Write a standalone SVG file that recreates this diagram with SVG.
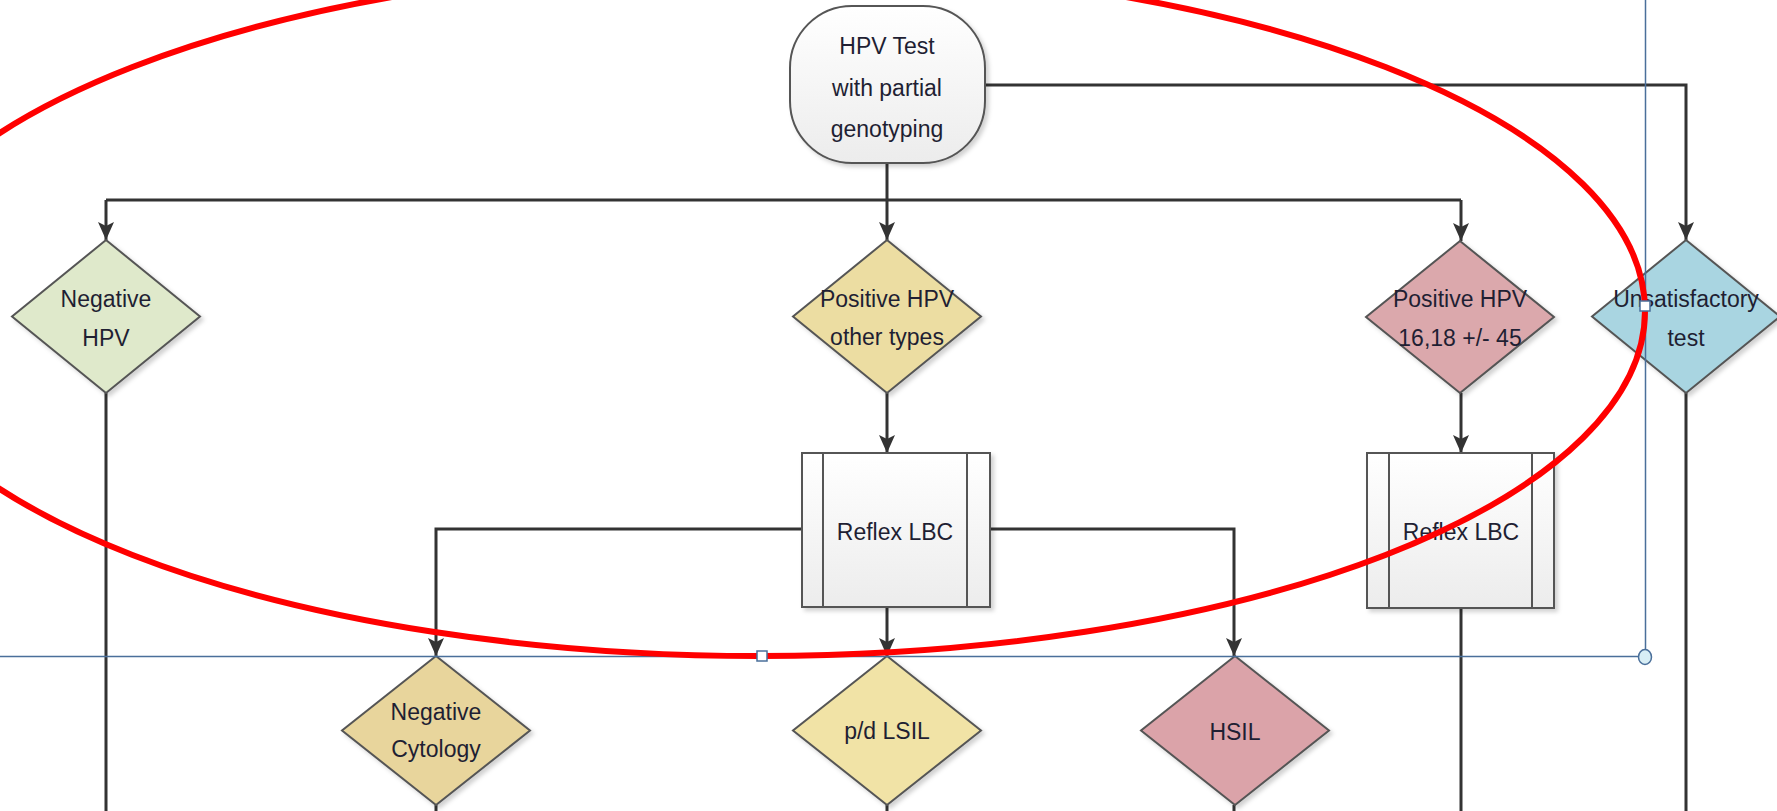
<svg xmlns="http://www.w3.org/2000/svg" width="1777" height="811" viewBox="0 0 1777 811">
  <defs>
    <style>
      .lbl { font-family: "Liberation Sans", Arial, sans-serif; font-size: 23px; fill: #1f1f33; text-anchor: middle; }
      .shape { stroke: #555; stroke-width: 2; }
      .conn { fill: none; stroke: #333; stroke-width: 3; }
      .guide { fill: none; stroke: #4a6f9a; stroke-width: 1.5; }
      .handle { fill: #fff; stroke: #4a6f9a; stroke-width: 1.5; }
    </style>
    <linearGradient id="boxFill" x1="0" y1="0" x2="0" y2="1">
      <stop offset="0" stop-color="#ffffff"/>
      <stop offset="1" stop-color="#ececec"/>
    </linearGradient>
    <filter id="shadow" x="-10%" y="-10%" width="130%" height="130%">
      <feDropShadow dx="3" dy="3" stdDeviation="2" flood-color="#000" flood-opacity="0.18"/>
    </filter>
    <marker id="arrow" viewBox="0 0 18 16" refX="18" refY="8" markerWidth="18" markerHeight="16" markerUnits="userSpaceOnUse" orient="auto">
      <path d="M0,0 L18,8 L0,16 L4,8 z" fill="#333"/>
    </marker>
  </defs>

  <rect width="1777" height="811" fill="#fff"/>

  <!-- connectors -->
  <g id="connectors">
    <path class="conn" d="M887,163 V200"/>
    <path class="conn" d="M106,200 H1461"/>
    <path class="conn" d="M106,200 V240" marker-end="url(#arrow)"/>
    <path class="conn" d="M887,200 V240" marker-end="url(#arrow)"/>
    <path class="conn" d="M1461,200 V241" marker-end="url(#arrow)"/>
    <path class="conn" d="M985,85 H1686 V240" marker-end="url(#arrow)"/>
    <path class="conn" d="M887,393 V453" marker-end="url(#arrow)"/>
    <path class="conn" d="M1461,393 V453" marker-end="url(#arrow)"/>
    <path class="conn" d="M802,529 H436 V656" marker-end="url(#arrow)"/>
    <path class="conn" d="M990,529 H1234 V656" marker-end="url(#arrow)"/>
    <path class="conn" d="M887,607 V656" marker-end="url(#arrow)"/>
    <path class="conn" d="M106,393 V811"/>
    <path class="conn" d="M1461,608 V811"/>
    <path class="conn" d="M1686,393 V811"/>
    <path class="conn" d="M436,805 V811"/>
    <path class="conn" d="M887,805 V811"/>
    <path class="conn" d="M1234,805 V811"/>
  </g>

  <!-- start terminator -->
  <g id="hpv-test">
    <rect class="shape" x="790" y="6" width="195" height="157" rx="62" ry="62" fill="url(#boxFill)" filter="url(#shadow)"/>
    <text class="lbl" x="887" y="54">HPV Test</text>
    <text class="lbl" x="887" y="96">with partial</text>
    <text class="lbl" x="887" y="137">genotyping</text>
  </g>

  <!-- decisions, first row -->
  <g id="negative-hpv">
    <polygon class="shape" points="106,240 200,316.5 106,393 12,316.5" fill="#dfe9cb" filter="url(#shadow)"/>
    <text class="lbl" x="106" y="307">Negative</text>
    <text class="lbl" x="106" y="346">HPV</text>
  </g>
  <g id="positive-other">
    <polygon class="shape" points="887,240 981,316.5 887,393 793,316.5" fill="#ecdda2" filter="url(#shadow)"/>
    <text class="lbl" x="887" y="307">Positive HPV</text>
    <text class="lbl" x="887" y="345">other types</text>
  </g>
  <g id="positive-16-18">
    <polygon class="shape" points="1460,241 1554,317 1460,393 1366,317" fill="#dba8ac" filter="url(#shadow)"/>
    <text class="lbl" x="1460" y="307">Positive HPV</text>
    <text class="lbl" x="1460" y="346">16,18 +/- 45</text>
  </g>
  <g id="unsatisfactory">
    <polygon class="shape" points="1686,240 1780,316.5 1686,393 1592,316.5" fill="#a9d5e1" filter="url(#shadow)"/>
    <text class="lbl" x="1686" y="307">Unsatisfactory</text>
    <text class="lbl" x="1686" y="346">test</text>
  </g>

  <!-- predefined process boxes -->
  <g id="reflex-lbc-1">
    <rect class="shape" x="802" y="453" width="188" height="154" fill="url(#boxFill)" filter="url(#shadow)"/>
    <line class="shape" x1="823" y1="453" x2="823" y2="607"/>
    <line class="shape" x1="967" y1="453" x2="967" y2="607"/>
    <text class="lbl" x="895" y="540">Reflex LBC</text>
  </g>
  <g id="reflex-lbc-2">
    <rect class="shape" x="1367" y="453" width="187" height="155" fill="url(#boxFill)" filter="url(#shadow)"/>
    <line class="shape" x1="1389" y1="453" x2="1389" y2="608"/>
    <line class="shape" x1="1532" y1="453" x2="1532" y2="608"/>
    <text class="lbl" x="1461" y="540">Reflex LBC</text>
  </g>

  <!-- decisions, second row -->
  <g id="negative-cytology">
    <polygon class="shape" points="436,656 530,730.5 436,805 342,730.5" fill="#e8d59c" filter="url(#shadow)"/>
    <text class="lbl" x="436" y="720">Negative</text>
    <text class="lbl" x="436" y="757">Cytology</text>
  </g>
  <g id="pd-lsil">
    <polygon class="shape" points="887,656 981,730.5 887,805 793,730.5" fill="#f1e3a6" filter="url(#shadow)"/>
    <text class="lbl" x="887" y="739">p/d LSIL</text>
  </g>
  <g id="hsil">
    <polygon class="shape" points="1235,656 1329,730.5 1235,805 1141,730.5" fill="#dba3a9" filter="url(#shadow)"/>
    <text class="lbl" x="1235" y="740">HSIL</text>
  </g>

  <!-- selection frame -->
  <g id="selection-frame">
    <path class="guide" d="M0,656.5 H1638"/>
    <path class="guide" d="M1645.5,0 V650"/>
  </g>

  <!-- highlight ellipse -->
  <ellipse cx="759" cy="311" rx="886" ry="345" fill="none" stroke="#ff0000" stroke-width="6"/>

  <!-- selection handles -->
  <g id="handles">
    <rect class="handle" x="757" y="651" width="10" height="10"/>
    <rect class="handle" x="1640" y="301" width="10" height="10"/>
    <ellipse class="handle" cx="1645" cy="657" rx="6.5" ry="7.5" style="fill:#d8eef5"/>
  </g>
</svg>
